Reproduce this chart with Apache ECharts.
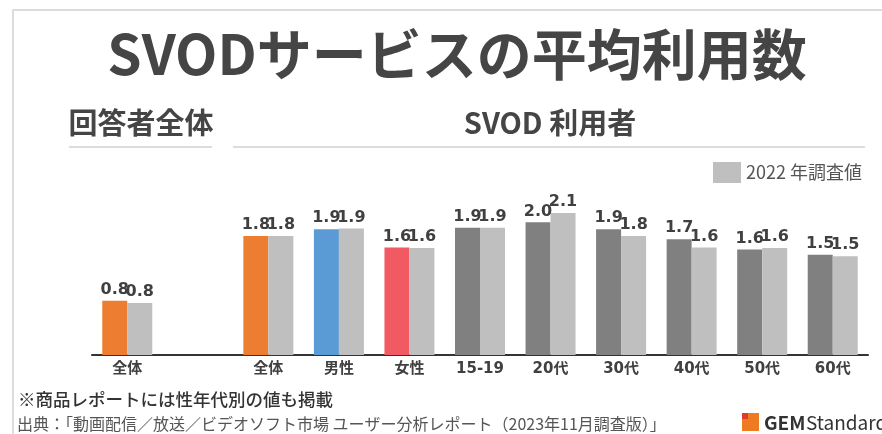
<!DOCTYPE html>
<html>
<head>
<meta charset="utf-8">
<script src="https://cdn.jsdelivr.net/npm/echarts@6/dist/echarts.min.js"></script>
<style>
  html, body { margin: 0; padding: 0; background: #fff; }
</style>
</head>
<body>
<div id="main" style="width: 882px;height:434px;"></div>
<script type="text/javascript">
    // カテゴリ（2番目は「回答者全体」と「SVOD 利用者」の間の空き）
    var categories = ['全体', '', '全体', '男性', '女性', '15-19', '20代', '30代', '40代', '50代', '60代'];
    // 2023年調査値（絵から読み取り）
    var values2023 = [0.80, null, 1.76, 1.86, 1.59, 1.88, 1.96, 1.86, 1.71, 1.56, 1.48];
    // 2022年調査値
    var values2022 = [0.77, null, 1.76, 1.87, 1.58, 1.88, 2.10, 1.76, 1.59, 1.58, 1.46];

    var barColors = ['#ED7D31', '#ED7D31', '#ED7D31', '#5B9BD5', '#F15A62',
                     '#808080', '#808080', '#808080', '#808080', '#808080', '#808080'];

    var myChart = echarts.init(document.getElementById('main'));

    var jp = "'Noto Sans CJK JP', sans-serif";
    var num = "'DejaVu Sans', 'Noto Sans CJK JP', sans-serif";

    var data2023 = values2023.map(function (v, i) {
        return { value: v, itemStyle: { color: barColors[i] } };
    });

    var labelOpt = {
        show: true,
        position: 'top',
        distance: 3,
        fontFamily: num,
        fontWeight: 'bold',
        fontSize: 16,
        color: '#404040',
        formatter: function (p) {
            return p.value == null ? '' : p.value.toFixed(1);
        }
    };

    var option = {
        animation: false,
        grid: { left: 92, right: 14, top: 152, bottom: 79 },
        legend: {
            data: ['2022 年調査値'],
            left: 708,
            top: 157,
            itemWidth: 28,
            itemHeight: 21,
            icon: 'rect',
            textStyle: { fontFamily: jp, fontSize: 18, color: '#555' }
        },
        xAxis: {
            type: 'category',
            data: categories,
            axisLine: { lineStyle: { color: '#333', width: 2 } },
            axisTick: { show: false },
            axisLabel: {
                interval: 0,
                margin: 7,
                fontFamily: num,
                fontWeight: 'bold',
                fontSize: 15,
                color: '#404040'
            }
        },
        yAxis: {
            type: 'value',
            min: 0,
            max: 3,
            show: false,
            splitLine: { show: false }
        },
        series: [
            {
                name: '2023 年調査値',
                type: 'bar',
                barWidth: 25,
                barGap: '0%',
                data: data2023,
                label: labelOpt
            },
            {
                name: '2022 年調査値',
                type: 'bar',
                barWidth: 25,
                itemStyle: { color: '#BFBFBF' },
                data: values2022,
                label: labelOpt
            }
        ],
        graphic: [
            // 外枠
            { type: 'polyline', shape: { points: [[13, 434], [13, 10], [882, 10]] },
              style: { stroke: '#dcdcdc', lineWidth: 2, fill: null } },
            // 見出し下の線
            { type: 'line', shape: { x1: 69, y1: 147, x2: 212, y2: 147 },
              style: { stroke: '#d0d0d0', lineWidth: 1.5 } },
            { type: 'line', shape: { x1: 233, y1: 147, x2: 865, y2: 147 },
              style: { stroke: '#d0d0d0', lineWidth: 1.5 } },
            // タイトル
            { type: 'text', x: 457, y: 54,
              style: { text: 'SVODサービスの平均利用数', textAlign: 'center', textVerticalAlign: 'middle',
                       font: 'bold 55px ' + jp, fill: '#454545' } },
            { type: 'text', x: 141, y: 123,
              style: { text: '回答者全体', textAlign: 'center', textVerticalAlign: 'middle',
                       font: 'bold 29px ' + jp, fill: '#454545' } },
            { type: 'text', x: 550, y: 123,
              style: { text: 'SVOD 利用者', textAlign: 'center', textVerticalAlign: 'middle',
                       font: 'bold 29px ' + jp, fill: '#454545' } },
            // 注記
            { type: 'text', x: 18, y: 399,
              style: { text: '※商品レポートには性年代別の値も掲載', textVerticalAlign: 'middle',
                       font: '500 17.5px ' + jp, fill: '#333' } },
            { type: 'text', x: 17, y: 424,
              style: { text: '出典：「動画配信／放送／ビデオソフト市場 ユーザー分析レポート（2023年11月調査版）」',
                       textVerticalAlign: 'middle', font: '16px ' + jp, fill: '#555' } },
            // ロゴ
            { type: 'rect', shape: { x: 742, y: 413, width: 17, height: 18 }, style: { fill: '#EE7A22' } },
            { type: 'rect', shape: { x: 742, y: 413, width: 6, height: 6 }, style: { fill: '#E03A2E' } },
            { type: 'text', x: 764, y: 423,
              style: { text: 'GEM', textVerticalAlign: 'middle', font: 'bold 19px ' + jp, fill: '#333' } },
            { type: 'text', x: 806, y: 423,
              style: { text: 'Standard', textVerticalAlign: 'middle', font: '19px ' + jp, fill: '#333' } }
        ]
    };

    myChart.setOption(option);
</script>
</body>
</html>
